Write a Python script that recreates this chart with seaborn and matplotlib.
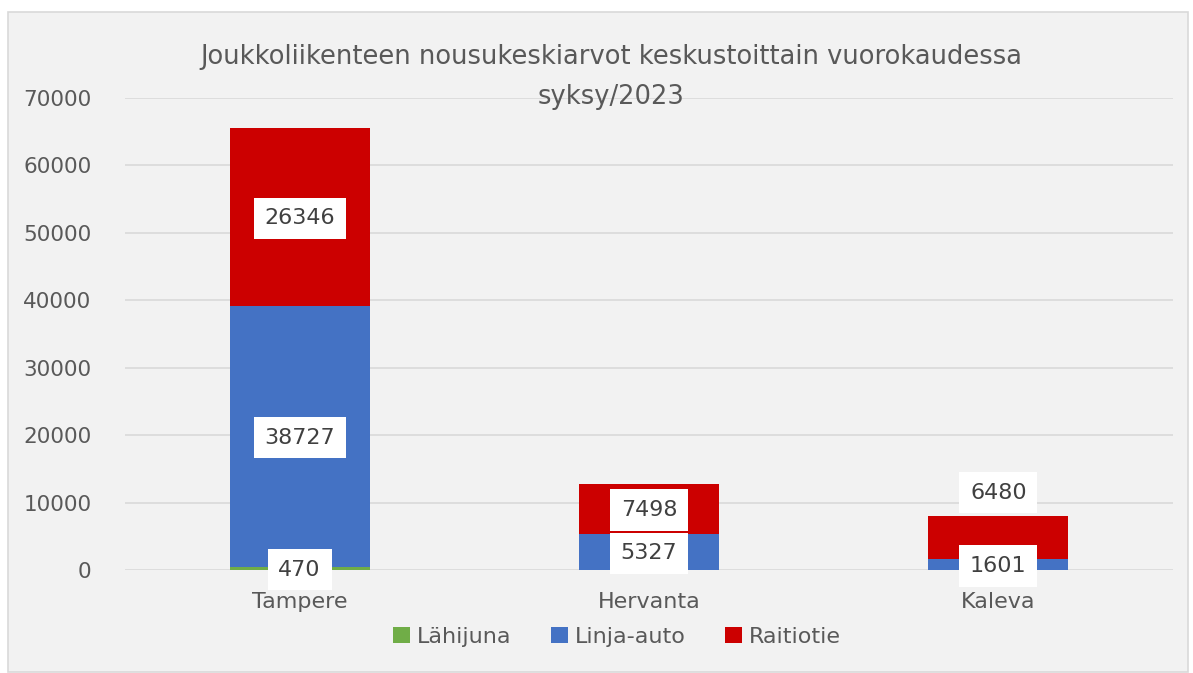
import matplotlib
matplotlib.use("Agg")
import matplotlib.pyplot as plt
import seaborn as sns
import pandas as pd
import numpy as np
from matplotlib.patches import Rectangle, Patch

categories = ["Tampere", "Hervanta", "Kaleva"]
series = ["Lähijuna", "Linja-auto", "Raitiotie"]
lahijuna = [470, 0, 0]
linja_auto = [38727, 5327, 1601]
raitiotie = [26346, 7498, 6480]
colors = ["#70ad47", "#4472c4", "#cc0000"]
yticks = [0, 10000, 20000, 30000, 40000, 50000, 60000, 70000]
title = "Joukkoliikenteen nousukeskiarvot keskustoittain vuorokaudessa\nsyksy/2023"

sns.set_theme(style="white")
plt.rcParams["font.family"] = ["DejaVu Sans"]

W, H = 1193, 673
fig = plt.figure(figsize=(W / 100, H / 100), dpi=100)
fig.patch.set_facecolor("white")
fig.add_artist(Rectangle((8 / W, 1 - 672 / H), 1180 / W, 660 / H, transform=fig.transFigure,
                         facecolor="#f2f2f2", edgecolor="#d9d9d9", linewidth=1.2, zorder=-10))

ax = fig.add_axes([125 / W, 1 - 570 / H, 1048 / W, 472 / H])
ax.set_facecolor("none")

df = pd.DataFrame({"Keskusta": categories, "Lähijuna": lahijuna,
                   "Linja-auto": linja_auto, "Raitiotie": raitiotie})
bottoms = np.zeros(len(categories))
label_pos = [[] for _ in categories]
for s, c in zip(series, colors):
    sns.barplot(data=df, x="Keskusta", y=s, bottom=bottoms, color=c, width=0.4,
                ax=ax, zorder=3, saturation=1, linewidth=0)
    vals = df[s].to_numpy()
    for i, v in enumerate(vals):
        if v > 0:
            yc = bottoms[i] + v / 2
            if label_pos[i] and yc - label_pos[i][-1] < 5000:
                yc = bottoms[i] + v + 3600
            label_pos[i].append(yc)
            ax.text(i, yc - 200, f"{v}", ha="center", va="center", fontsize=16, color="#404040",
                    zorder=5, bbox=dict(boxstyle="square,pad=0.48", facecolor="white", edgecolor="none"))
    bottoms = bottoms + vals

ax.set_ylim(0, 70000)
ax.set_xlim(-0.5, 2.5)
ax.set_yticks(yticks)
ax.set_yticklabels([str(t) for t in yticks])
ax.grid(axis="y", color="#d9d9d9", linewidth=1.2, zorder=0)
for sp in ax.spines.values():
    sp.set_visible(False)
ax.tick_params(axis="y", length=0, pad=24, labelsize=15.5, labelcolor="#595959")
ax.tick_params(axis="x", length=0, pad=16, labelsize=16, labelcolor="#595959")
ax.set_xlabel("")
ax.set_ylabel("")

fig.text(611 / W, 1 - 77 / H, title, ha="center", va="center", fontsize=18.5,
         color="#595959", linespacing=1.75)

handles = [Patch(facecolor=c, edgecolor="none") for c in colors]
fig.legend(handles, series, loc="center", bbox_to_anchor=(617 / W, 1 - 637 / H), ncol=3,
           frameon=False, fontsize=16, labelcolor="#595959", handlelength=0.75,
           handleheight=0.75, handletextpad=0.3, columnspacing=1.8)

fig.savefig("out.png", dpi=100)
